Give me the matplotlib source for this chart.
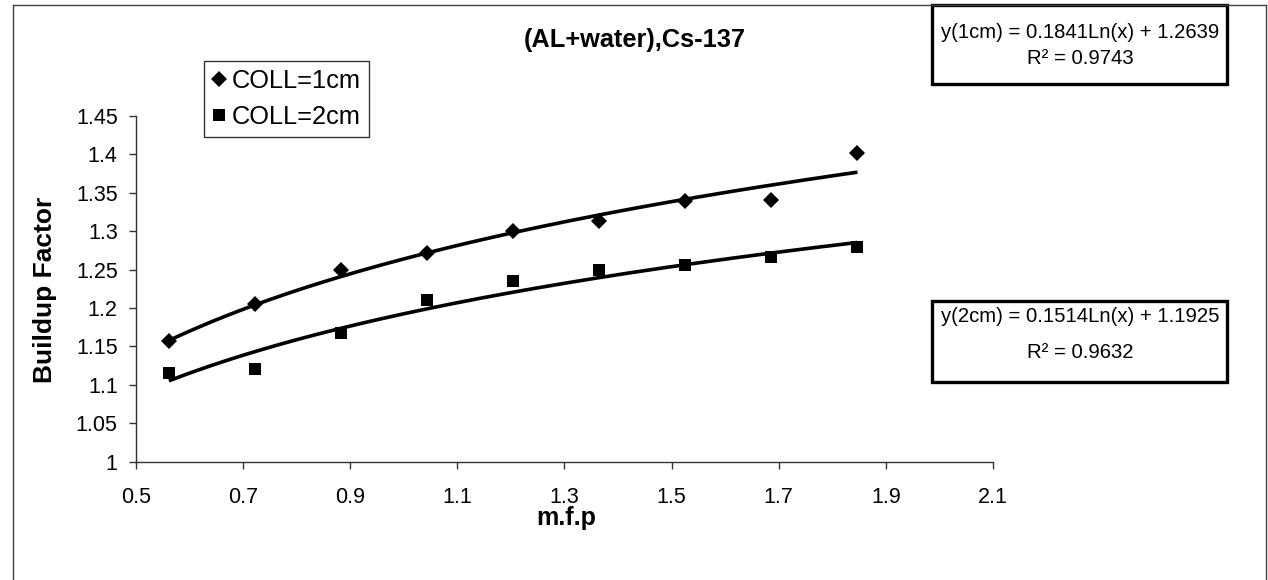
import numpy as np
import matplotlib
matplotlib.use("Agg")
import matplotlib.pyplot as plt
from matplotlib.patches import Rectangle
from matplotlib.lines import Line2D

plt.rcParams['font.family'] = ['Liberation Sans', 'DejaVu Sans']

# ---- data ----
mfp = [0.562, 0.722, 0.883, 1.044, 1.204, 1.365, 1.526, 1.686, 1.847]
coll_1cm = [1.157, 1.205, 1.249, 1.272, 1.300, 1.313, 1.339, 1.341, 1.402]
coll_2cm = [1.116, 1.121, 1.168, 1.210, 1.235, 1.249, 1.256, 1.266, 1.280]
fit_1cm = (0.1841, 1.2639)
fit_2cm = (0.1514, 1.1925)
x_ticks = [0.5, 0.7, 0.9, 1.1, 1.3, 1.5, 1.7, 1.9, 2.1]
x_tick_labels = ['0.5', '0.7', '0.9', '1.1', '1.3', '1.5', '1.7', '1.9', '2.1']
y_ticks = [1.0, 1.05, 1.1, 1.15, 1.2, 1.25, 1.3, 1.35, 1.4, 1.45]
y_tick_labels = ['1', '1.05', '1.1', '1.15', '1.2', '1.25', '1.3', '1.35', '1.4', '1.45']
eq_1cm = ['y(1cm) = 0.1841Ln(x) + 1.2639', 'R² = 0.9743']
eq_2cm = ['y(2cm) = 0.1514Ln(x) + 1.1925', 'R² = 0.9632']

W, H = 1268, 580
def fx(px): return px / W
def fy(py): return 1 - py / H

fig = plt.figure(figsize=(W / 100, H / 100), dpi=100)

# outer chart border
for (x0, y0, x1, y1) in [(13, 5, 1266, 5), (13, 5, 13, 580), (1266, 5, 1266, 580)]:
    fig.add_artist(Line2D([fx(x0), fx(x1)], [fy(y0), fy(y1)], color='#404040', lw=1.0,
                          transform=fig.transFigure))

ax_l, ax_r, ax_t, ax_b = 135.7, 993, 116, 461.7
ax = fig.add_axes([fx(ax_l), fy(ax_b), (ax_r - ax_l) / W, (ax_b - ax_t) / H])

xs = np.array(mfp)
xf = np.linspace(xs.min(), xs.max(), 200)
ax.plot(xf, fit_1cm[0] * np.log(xf) + fit_1cm[1], color='black', lw=2.6, solid_capstyle='butt', zorder=2)
ax.plot(xf, fit_2cm[0] * np.log(xf) + fit_2cm[1], color='black', lw=2.6, solid_capstyle='butt', zorder=2)
ax.plot(mfp, coll_1cm, linestyle='none', marker='D', ms=8.3, mfc='black', mec='black', mew=0,
        label='COLL=1cm', zorder=3)
ax.plot(mfp, coll_2cm, linestyle='none', marker='s', ms=9.0, mfc='black', mec='black', mew=0,
        label='COLL=2cm', zorder=3)

ax.set_xlim(0.5, 2.1)
ax.set_ylim(1.0, 1.45)
ax.set_xticks(x_ticks)
ax.set_xticklabels(x_tick_labels)
ax.set_yticks(y_ticks)
ax.set_yticklabels(y_tick_labels)
ax.spines['top'].set_visible(False)
ax.spines['right'].set_visible(False)
for s in ('left', 'bottom'):
    ax.spines[s].set_color('#333333')
    ax.spines[s].set_linewidth(1.0)
ax.tick_params(axis='both', direction='out', length=5, width=1, color='#333333', labelsize=15.5)
ax.tick_params(axis='x', pad=13)
ax.tick_params(axis='y', pad=8)

# legend
leg = ax.legend(loc='upper left', bbox_to_anchor=(fx(204), fy(61)), bbox_transform=fig.transFigure,
                frameon=True, fancybox=False, fontsize=18.3, handlelength=0.6, handletextpad=0.2,
                borderpad=0.3, labelspacing=0.5, borderaxespad=0, markerscale=1.0)
leg.get_frame().set_edgecolor('black')
leg.get_frame().set_linewidth(1.0)

# titles
fig.text(fx(635), fy(40), '(AL+water),Cs-137', ha='center', va='center', fontsize=18.3, fontweight='bold')
fig.text(fx(45), fy(290), 'Buildup Factor', ha='center', va='center', rotation=90, fontsize=19, fontweight='bold')
fig.text(fx(566), fy(518), 'm.f.p', ha='center', va='center', fontsize=18, fontweight='bold')

# equation boxes
for (top, bot, lines, ly) in [(5, 84, eq_1cm, (32, 59)), (301, 382, eq_2cm, (317, 352))]:
    fig.add_artist(Rectangle((fx(932), fy(bot)), (1227 - 932) / W, (bot - top) / H,
                             transform=fig.transFigure, fill=False, edgecolor='black', lw=2.4))
    for txt, yy in zip(lines, ly):
        fig.text(fx(1080), fy(yy), txt, ha='center', va='center', fontsize=14.6)

fig.savefig('out.png', dpi=100)
